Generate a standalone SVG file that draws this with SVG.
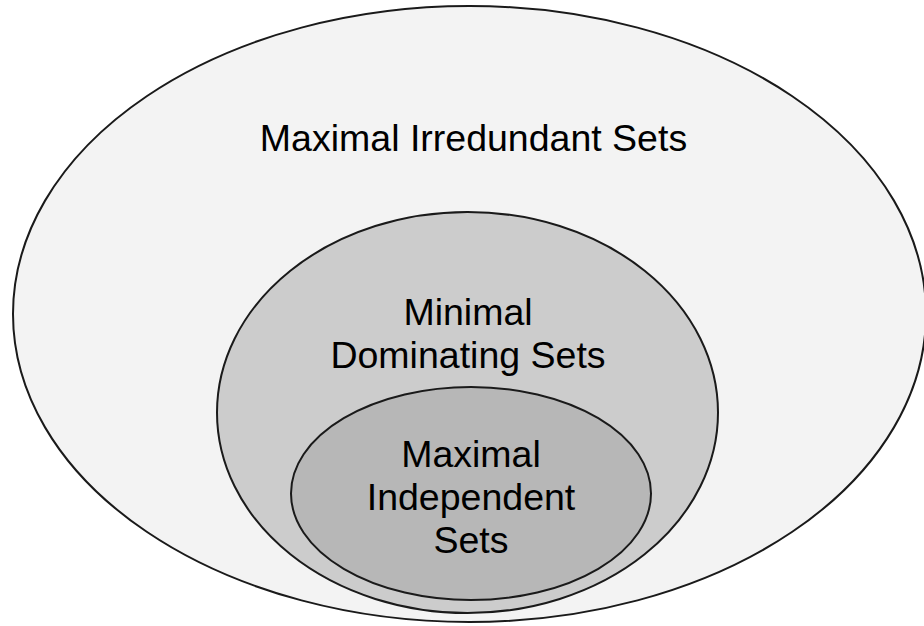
<svg xmlns="http://www.w3.org/2000/svg" width="924" height="626" viewBox="0 0 924 626">
  <style>
    .set { stroke: #1a1a1a; stroke-width: 2; }
    .label { font-family: "Liberation Sans", Arial, sans-serif; font-size: 37.5px; fill: #000; text-anchor: middle; }
  </style>
  <rect width="924" height="626" fill="#ffffff"/>
  <g id="irredundant">
    <ellipse class="set" cx="469.5" cy="314" rx="456.5" ry="308" fill="#f3f3f3"/>
    <text class="label" x="473.5" y="151">Maximal Irredundant Sets</text>
  </g>
  <g id="dominating">
    <ellipse class="set" cx="467.5" cy="412.5" rx="250.5" ry="200.5" fill="#cccccc"/>
    <text class="label" x="468" y="325">Minimal</text>
    <text class="label" x="468" y="368">Dominating Sets</text>
  </g>
  <g id="independent">
    <ellipse class="set" cx="471" cy="493.5" rx="180" ry="106.5" fill="#b7b7b7"/>
    <text class="label" x="471" y="467">Maximal</text>
    <text class="label" x="471" y="510">Independent</text>
    <text class="label" x="471" y="553">Sets</text>
  </g>
  <g id="connectors"/>
</svg>
